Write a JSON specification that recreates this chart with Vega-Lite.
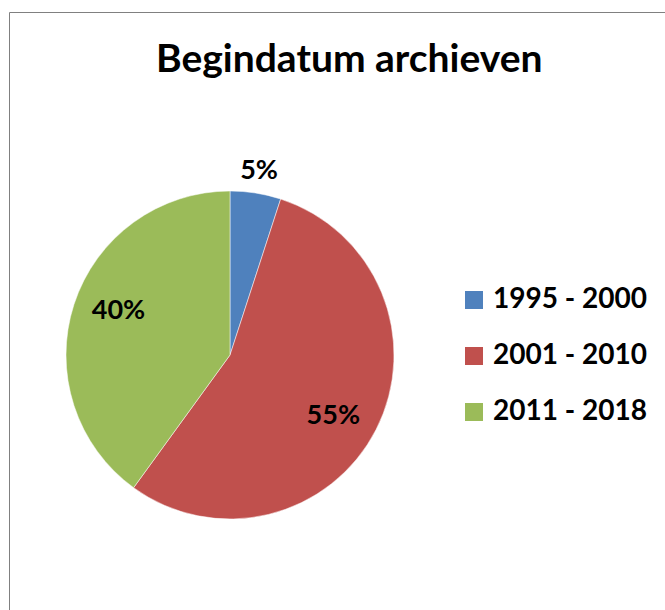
{
  "$schema": "https://vega.github.io/schema/vega-lite/v6.json",
  "autosize": "none",
  "width": 460,
  "height": 460,
  "padding": {"left": 0, "top": 125, "right": 205, "bottom": 25},
  "background": "white",
  "config": {"view": {"stroke": null}},
  "title": {
    "text": "Begindatum archieven",
    "anchor": "start",
    "frame": "group",
    "dx": 156,
    "dy": 99,
    "baseline": "alphabetic",
    "offset": 0,
    "font": "Lato",
    "fontSize": 39,
    "fontWeight": "bold",
    "color": "#000000"
  },
  "data": {
    "values": [
      {"periode": "1995 - 2000", "aandeel": 0.05},
      {"periode": "2001 - 2010", "aandeel": 0.55},
      {"periode": "2011 - 2018", "aandeel": 0.40}
    ]
  },
  "encoding": {
    "theta": {"field": "aandeel", "type": "quantitative", "stack": true},
    "order": {"field": "periode", "type": "ordinal"},
    "color": {
      "field": "periode",
      "type": "nominal",
      "scale": {"domain": ["1995 - 2000", "2001 - 2010", "2011 - 2018"], "range": ["#4F81BD", "#C0504D", "#9BBB59"]},
      "legend": {
        "orient": "none",
        "legendX": 9,
        "legendY": -113,
        "padding": 274,
        "strokeColor": "#808080",
        "title": " ",
        "titleOrient": "left",
        "titleFontSize": 1,
        "titlePadding": 177,
        "symbolType": "square",
        "symbolSize": 324,
        "symbolStrokeWidth": 0,
        "symbolOpacity": 1,
        "labelFont": "Lato",
        "labelFontSize": 28,
        "labelFontWeight": "bold",
        "labelColor": "#000000",
        "labelOffset": 5,
        "rowPadding": 28,
        "labelLimit": 400,
        "encode": {"legend": {"enter": {"strokeWidth": {"value": 2}}, "update": {"strokeWidth": {"value": 2}}}}
      }
    }
  },
  "layer": [
    {
      "mark": {"type": "arc", "outerRadius": 164, "stroke": "#ffffff", "strokeWidth": 0.5}
    },
    {
      "mark": {"type": "text", "radius": 186, "font": "Lato", "fontSize": 27, "fontWeight": "bold"},
      "encoding": {
        "text": {"condition": {"test": "datum.aandeel < 0.1", "field": "aandeel", "format": ".0%"}, "value": ""},
        "detail": {"field": "periode", "type": "nominal"},
        "color": {"value": "#000000"}
      }
    },
    {
      "mark": {"type": "text", "radius": 120, "thetaOffset": 0.063, "font": "Lato", "fontSize": 27, "fontWeight": "bold"},
      "encoding": {
        "text": {"condition": {"test": "datum.aandeel >= 0.1", "field": "aandeel", "format": ".0%"}, "value": ""},
        "detail": {"field": "periode", "type": "nominal"},
        "color": {"value": "#000000"}
      }
    }
  ]
}
